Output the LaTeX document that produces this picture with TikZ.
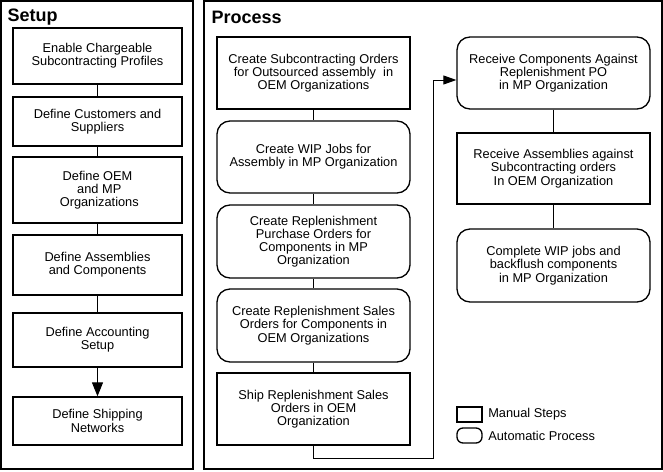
\documentclass[tikz,border=0pt]{standalone}
\usepackage{fontspec}
\setmainfont{Liberation Sans}
\usetikzlibrary{arrows.meta}
\usetikzlibrary{positioning}

\begin{document}
\begin{tikzpicture}[x=1pt,y=-1pt,line width=1.3pt,
    txt/.style={font=\fontsize{12.8}{13.2}\selectfont,align=center,inner sep=0pt},
    setupbox/.style={txt,draw,minimum width=169pt},
    manualbox/.style={txt,draw,minimum width=193pt,minimum height=72pt},
    autobox/.style={manualbox,rounded corners=13pt},
    title/.style={font=\fontsize{18}{20}\selectfont\bfseries,anchor=west,inner sep=0pt},
    link/.style={line width=1pt}]
        \useasboundingbox (0,0) rectangle (663,471);
        % panels
        \draw[line width=1.5pt] (1,1) rectangle (193,469);
        \draw[line width=1.5pt] (204,1) rectangle (662,469);
        \node[title] (setup) at (7,17) {Setup};
        \node[title] (process) at (211,17) {Process};
        % setup column
        \node[setupbox,minimum height=56pt] (s1) at (97.5,56) {Enable Chargeable\\Subcontracting Profiles};
        \node[setupbox,minimum height=49pt] (s2) at (97.5,121.5) {Define Customers and\\Suppliers};
        \node[setupbox,minimum height=66pt] (s3) at (97.5,190) {Define OEM\\\ and MP\\\ Organizations};
        \node[setupbox,minimum height=60pt] (s4) at (97.5,265) {Define Assemblies\\and Components};
        \node[setupbox,minimum height=54pt] (s5) at (97.5,340) {Define Accounting\\Setup};
        \node[setupbox,minimum height=48pt] (s6) at (97.5,421) {Define Shipping\\Networks};
        \draw[link] (s1) -- (s2);
        \draw[link] (s2) -- (s3);
        \draw[link] (s3) -- (s4);
        \draw[link] (s4) -- (s5);
        \draw[link,-{Triangle[length=14pt,width=11pt]}] (s5) -- (s6);
        % process columns
        \node[manualbox] (p1) at (313.5,73) {Create Subcontracting Orders\\for Outsourced assembly\ \ in\\OEM Organizations};
        \node[autobox] (p2) at (313.5,157) {Create WIP Jobs for\\Assembly in MP Organization};
        \node[autobox,minimum height=73pt] (p3) at (313.5,241.5) {Create Replenishment\\Purchase Orders for\\Components in MP\\Organization};
        \node[autobox,minimum height=73pt] (p4) at (313.5,325.5) {Create Replenishment Sales\\Orders for Components in\\OEM Organizations};
        \node[manualbox] (p5) at (313.5,409) {Ship Replenishment Sales\\Orders in OEM\\Organization};
        \node[autobox] (r1) at (553.5,73) {Receive Components Against\\Replenishment PO\\in MP Organization};
        \node[manualbox,minimum height=71pt] (r2) at (553.5,168.5) {Receive Assemblies against\\Subcontracting orders\\In OEM Organization};
        \node[autobox,minimum height=73pt] (r3) at (553.5,265.5) {Complete WIP jobs and\\backflush components\\in MP Organization};
        \draw[link] (p1) -- (p2);
        \draw[link] (p2) -- (p3);
        \draw[link] (p3) -- (p4);
        \draw[link] (p4) -- (p5);
        \coordinate (turn) at (433,458);
        \draw[link,-{Triangle[length=13pt,width=9pt]}] (p5) |- (turn) |- ([yshift=-7pt]r1.west);
        \draw[link] (r1) -- (r2);
        \draw[link] (r2) -- (r3);
        % legend
        \node[draw,minimum width=25pt,minimum height=15pt,inner sep=0pt] (legman) at (469.5,414.5) {};
        \node[txt,right=5pt of legman] (legmantxt) {Manual Steps};
        \node[draw,rounded corners=6pt,minimum width=25pt,minimum height=15pt,inner sep=0pt] (legauto) at (469.5,435.5) {};
        \node[txt,right=5pt of legauto] (legautotxt) {Automatic Process};
    \end{tikzpicture}
\end{document}
